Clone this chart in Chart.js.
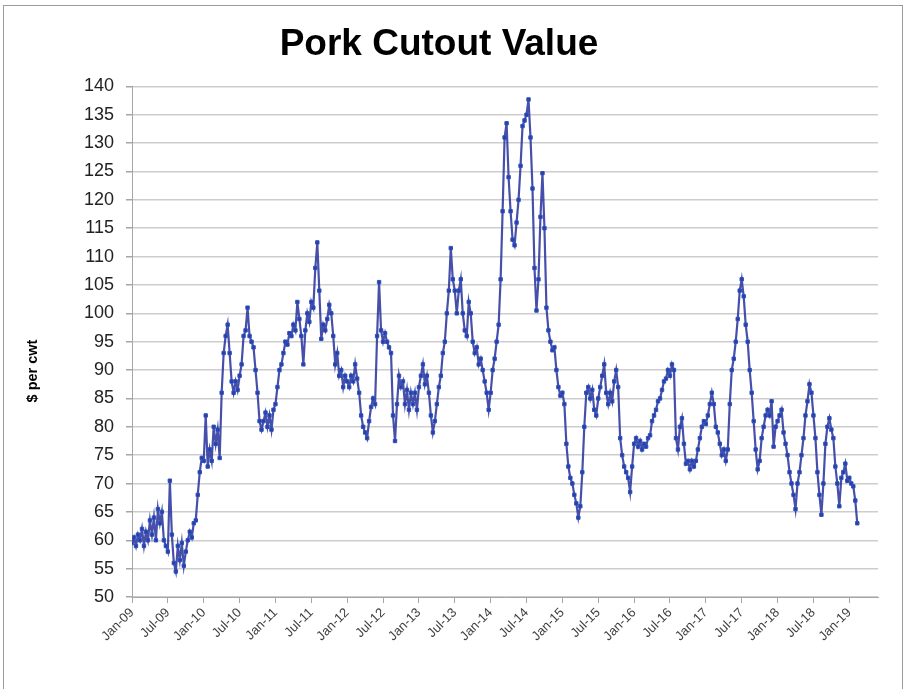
<!DOCTYPE html>
<html>
<head>
<meta charset="utf-8">
<title>Pork Cutout Value</title>
<script src="https://cdn.jsdelivr.net/npm/chart.js@4.4.1/dist/chart.umd.min.js"></script>
<style>
html, body { margin:0; padding:0; background:#fff; }
#wrap { position:relative; width:906px; height:689px; overflow:hidden; }
#frame { position:absolute; left:3px; top:5px; width:900px; height:700px; border:1px solid #9a9a9a; box-sizing:border-box; }
#porkChart { position:absolute; left:0; top:0; }
</style>
</head>
<body>
<div id="wrap">
	<div id="frame"></div>
	<canvas id="porkChart" width="906" height="689"></canvas>
</div>
<script>
// x축 라벨 (6개월 간격)
const tickLabels = ['Jan-09','Jul-09','Jan-10','Jul-10','Jan-11','Jul-11','Jan-12','Jul-12',
	'Jan-13','Jul-13','Jan-14','Jul-14','Jan-15','Jul-15','Jan-16','Jul-16','Jan-17','Jul-17',
	'Jan-18','Jul-18','Jan-19'];

// $ per cwt, 한 달에 3번 (1일, 11일, 21일 무렵) 읽은 값
const cutout2009 = [59.5,60.5,59,61,60,62,59,61.5,60,63.5,61,64,60,65.5,63,65,60,59,
	58,70.5,61,56,54.5,59,56.5,59.5,55.5,58,60,61.5,60.5,63,63.5,68,72,74.5];
const cutout2010 = [74,82,73,76,74,80,77,79.5,74.5,86,93,96,98,93,88,86,88,86.5,
	89,91,96,97,101,96,95,94,90,86,81,79.5,81,82.5,80,82,79.5,83];
const cutout2011 = [84,87,90,91,93,95,94.5,96.5,96,98,97,102,99,96,91,97,100,98.5,
	102,101,108,112.5,104,95.5,98,97,99,101.5,100,96,91,93,89,90,87,89];
const cutout2012 = [88,87,89,88,91,88.5,86,82,80,79,78,81,83.5,85,84,96,105.5,97,
	95,96.5,95,94,93,82,77.5,84,89,87,88,84,86.5,83,86,84,86,83];
const cutout2013 = [87,89,91,87.5,89,86,82,79,81,84,87,89,93,95,100,104,111.5,106,
	104,100,104,106,100,97,96,102,100,95,93,94,91,92,90,88,86,83];
const cutout2014 = [86,90,92,95,98,106,118,131,133.5,124,118,113,112,116,120,126,133,134,
	135,137.7,131,122,108,100.5,106,117,124.7,115,101,97,95,93.5,94,90,87,85.5];
const cutout2015 = [86,84,77,73,71,70,68,66.5,64,66,72,80,86,87,85,86.5,83,82,
	85,87,89,91,86,84,86,84.5,88,90,87,78,75,73,72,71,68.5,73];
const cutout2016 = [77,78,76.5,77.5,76,77,76.5,78,78.5,81,82,83,84.5,85,86.5,88,88.5,90,
	89,91,90,78,76,80,81.5,77,73.5,74,72.5,74,73,74,76,78,80,81];
const cutout2017 = [80.5,82,84,86,84,80,79,77,75,76,74,76,84,90,92,95,99,104,
	106,103,98,95,90,86,81,76,72.5,74,78,80,82,83,82,84.5,76.5,80];
const cutout2018 = [81,82,83,79,77,75,72,70,68,65.5,70,72,75,78,82,84.5,87.5,86,
	82,78,72,68,64.5,70,77,80,81.5,79.5,78,73,70,66,71,72,73.5,70.5];
const cutout2019 = [71,70,69.5,67,63];

const yearly = [cutout2009,cutout2010,cutout2011,cutout2012,cutout2013,cutout2014,
	cutout2015,cutout2016,cutout2017,cutout2018,cutout2019];

// x = 2009년 1월부터 개월 수
const points = [];
yearly.forEach(function(vals, yr){
	vals.forEach(function(v, i){
		points.push({x: yr*12 + i/3, y: v});
	});
});

const family = '"Liberation Sans", Arial, sans-serif';

// y축 제목 (축 가운데보다 조금 아래에 있음)
const yTitle = {
	id: 'yTitle',
	afterDraw: function(chart){
		const ctx = chart.ctx;
		ctx.save();
		ctx.translate(33, 371);
		ctx.rotate(-Math.PI/2);
		ctx.font = 'bold 14.5px ' + family;
		ctx.fillStyle = '#000';
		ctx.textAlign = 'center';
		ctx.textBaseline = 'middle';
		ctx.fillText('$ per cwt', 0, 0);
		ctx.restore();
	}
};

new Chart(document.getElementById('porkChart'), {
	type: 'line',
	data: {
		datasets: [{
			data: points,
			borderColor: 'rgba(50,60,160,0.9)',
			borderWidth: 2.2,
			tension: 0,
			pointStyle: 'rect',
			pointRadius: 2.4,
			pointBackgroundColor: '#2040ae',
			pointBorderColor: '#3550b8',
			pointBorderWidth: 1
		}]
	},
	options: {
		responsive: false,
		animation: false,
		layout: { padding: { left: 0, right: 28, top: 0, bottom: 0 } },
		plugins: {
			legend: { display: false },
			tooltip: { enabled: false },
			title: {
				display: true,
				text: 'Pork Cutout Value',
				color: '#000',
				font: { size: 37, weight: 'bold', family: family },
				padding: { top: 23, bottom: 19 }
			}
		},
		scales: {
			x: {
				type: 'linear',
				min: 0,
				max: 124.8,
				afterBuildTicks: function(scale){
					scale.ticks = tickLabels.map(function(l, i){ return {value: i*6}; });
				},
				afterFit: function(scale){ scale.height = 92; },
				grid: { drawOnChartArea: false, drawTicks: true, tickLength: 6, color: '#a6a6a6' },
				border: { color: '#a6a6a6', width: 1 },
				ticks: {
					autoSkip: false, minRotation: 45, maxRotation: 45, padding: 2,
					color: '#404040', font: { size: 13, family: family },
					callback: function(v){ return tickLabels[Math.round(v/6)]; }
				}
			},
			y: {
				min: 50,
				max: 140,
				afterFit: function(scale){ scale.width = 132; },
				ticks: { stepSize: 5, padding: 12, color: '#222', font: { size: 18, family: family } },
				grid: { color: '#cdcdcd', lineWidth: 1.5, tickLength: 6, tickColor: '#a6a6a6' },
				border: { color: '#a6a6a6', width: 1 }
			}
		}
	},
	plugins: [yTitle]
});
</script>
</body>
</html>
